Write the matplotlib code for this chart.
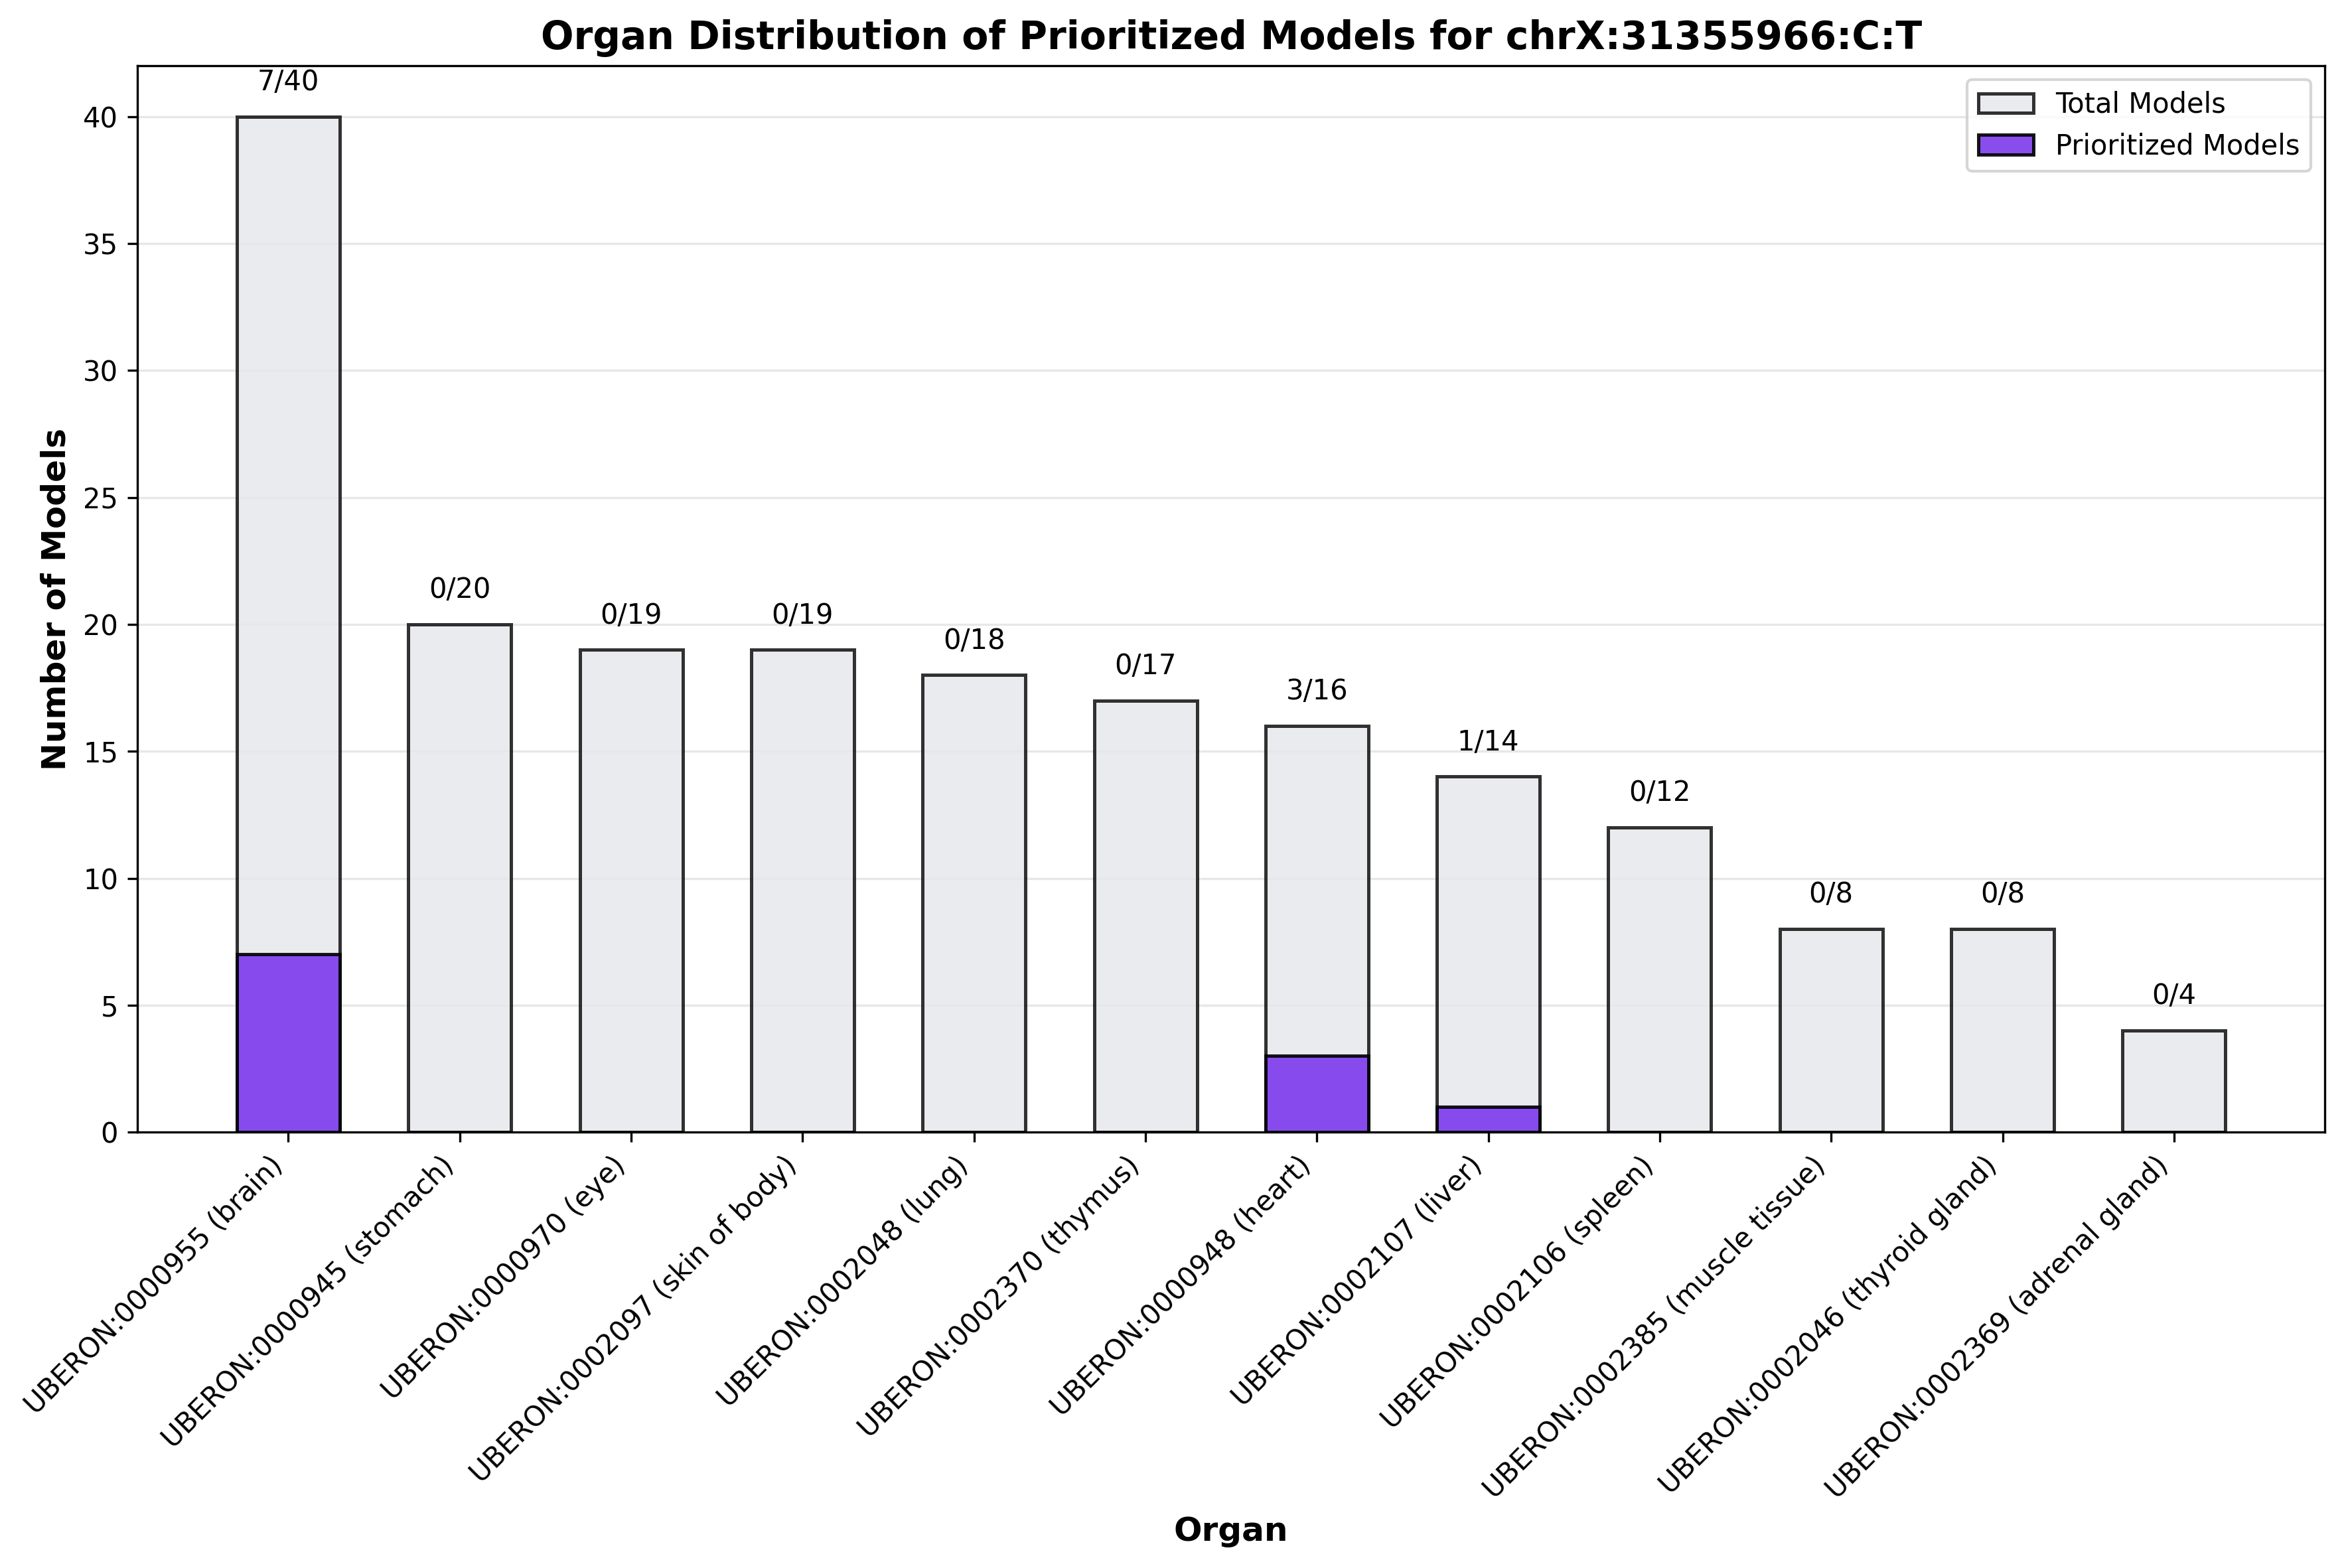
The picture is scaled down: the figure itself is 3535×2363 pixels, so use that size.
import matplotlib
matplotlib.use("Agg")
import matplotlib.pyplot as plt
import numpy as np

# Data
organs = [
    "UBERON:0000955 (brain)",
    "UBERON:0000945 (stomach)",
    "UBERON:0000970 (eye)",
    "UBERON:0002097 (skin of body)",
    "UBERON:0002048 (lung)",
    "UBERON:0002370 (thymus)",
    "UBERON:0000948 (heart)",
    "UBERON:0002107 (liver)",
    "UBERON:0002106 (spleen)",
    "UBERON:0002385 (muscle tissue)",
    "UBERON:0002046 (thyroid gland)",
    "UBERON:0002369 (adrenal gland)",
]
total_models = [40, 20, 19, 19, 18, 17, 16, 14, 12, 8, 8, 4]
prioritized_models = [7, 0, 0, 0, 0, 0, 3, 1, 0, 0, 0, 0]

fig = plt.figure(figsize=(3535 / 300, 2363 / 300), dpi=300)
ax = fig.add_axes([0.0586, 0.278, 0.991 - 0.0586, 0.958 - 0.278])

x = np.arange(len(organs))
width = 0.6

ax.bar(x, total_models, width, label="Total Models",
       color="#E5E7EB", edgecolor="black", alpha=0.8, linewidth=1.2)
ax.bar(x, prioritized_models, width, label="Prioritized Models",
       color="#7C3AED", edgecolor="black", alpha=0.9, linewidth=1.2)

# count labels above bars
offset = max(total_models) * 0.02
for i, (p, t) in enumerate(zip(prioritized_models, total_models)):
    ax.text(x[i], t + offset, f"{p}/{t}", ha="center", va="bottom", fontsize=10)

ax.set_xlabel("Organ", fontsize=12, fontweight="bold")
ax.set_ylabel("Number of Models", fontsize=12, fontweight="bold")
ax.set_title("Organ Distribution of Prioritized Models for chrX:31355966:C:T",
             fontsize=14, fontweight="bold")
ax.set_xticks(x)
ax.set_xticklabels(organs, rotation=45, ha="right")
ax.legend(loc="upper right")
ax.grid(axis="y", alpha=0.3)
ax.set_axisbelow(True)

fig.savefig("out.png", dpi=300)
